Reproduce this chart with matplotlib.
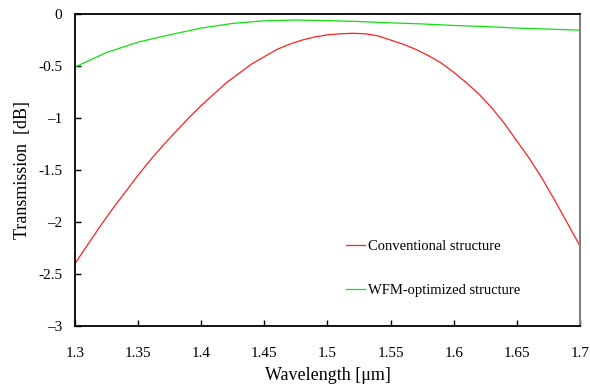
import numpy as np
import matplotlib
matplotlib.use("Agg")
import matplotlib.pyplot as plt

plt.rcParams['font.family'] = ['Liberation Serif', 'DejaVu Serif']

# conventional structure: wavelength [um] and transmission [dB]
wl_conv = [1.30, 1.31, 1.32, 1.33, 1.34, 1.35, 1.36, 1.37, 1.38, 1.39, 1.40,
           1.41, 1.42, 1.43, 1.44, 1.45, 1.46, 1.47, 1.48, 1.49, 1.50,
           1.51, 1.52, 1.53, 1.54, 1.55, 1.56, 1.57, 1.58, 1.59, 1.60,
           1.61, 1.62, 1.63, 1.64, 1.65, 1.66, 1.67, 1.68, 1.69, 1.70]
conventional = [-2.40, -2.22, -2.04, -1.87, -1.71, -1.55, -1.40, -1.26, -1.13, -1.00, -0.88,
                -0.77, -0.66, -0.57, -0.48, -0.41, -0.34, -0.29, -0.25, -0.22, -0.20,
                -0.19, -0.185, -0.19, -0.21, -0.25, -0.29, -0.34, -0.40, -0.47, -0.56,
                -0.66, -0.77, -0.90, -1.05, -1.22, -1.39, -1.58, -1.79, -2.01, -2.23]

# WFM-optimized structure
wl_wfm = [1.300, 1.325, 1.350, 1.375, 1.400, 1.425, 1.450, 1.475, 1.500,
          1.525, 1.550, 1.575, 1.600, 1.625, 1.650, 1.675, 1.700]
wfm_optimized = [-0.51, -0.37, -0.27, -0.20, -0.135, -0.09, -0.065, -0.058, -0.063,
                 -0.072, -0.085, -0.095, -0.11, -0.12, -0.135, -0.145, -0.155]

xticks = [1.3, 1.35, 1.4, 1.45, 1.5, 1.55, 1.6, 1.65, 1.7]
xtick_labels = ['1.3', '1.35', '1.4', '1.45', '1.5', '1.55', '1.6', '1.65', '1.7']
yticks = [0, -0.5, -1, -1.5, -2, -2.5, -3]
ytick_labels = ['0', '-0.5', '\u20131', '-1.5', '\u20132', '-2.5', '\u20133']

fig = plt.figure(figsize=(5.9, 3.9), dpi=100)
ax = fig.add_axes([0.127, 0.164, 0.856, 0.800])

ax.plot(wl_conv, conventional, color='#ff2020', lw=0.9, label='Conventional structure')
ax.plot(wl_wfm, wfm_optimized, color='#10e010', lw=0.9, label='WFM-optimized structure')

ax.set_xlim(1.3, 1.7)
ax.set_ylim(-3, 0)
ax.set_xticks(xticks)
ax.set_xticklabels(xtick_labels)
ax.set_yticks(yticks)
ax.set_yticklabels(ytick_labels)
ax.tick_params(direction='in', length=4, width=1, labelsize=11)
ax.tick_params(axis='x', pad=15)
ax.tick_params(axis='y', pad=9)

for side in ['left', 'bottom', 'top']:
    ax.spines[side].set_linewidth(1.3)
    ax.spines[side].set_color('black')
ax.spines['right'].set_linewidth(1.5)
ax.spines['right'].set_color('#808080')

ax.set_xlabel('Wavelength [\u03bcm]', fontsize=13, labelpad=5)
ax.set_ylabel('Transmission  [dB]', fontsize=13, labelpad=5)

ax.legend(loc='lower left', bbox_to_anchor=(0.51, 0.05), frameon=False,
          fontsize=10.5, handlelength=1.3, handletextpad=0.25, labelspacing=2.1)

fig.savefig('out.png', dpi=100)
